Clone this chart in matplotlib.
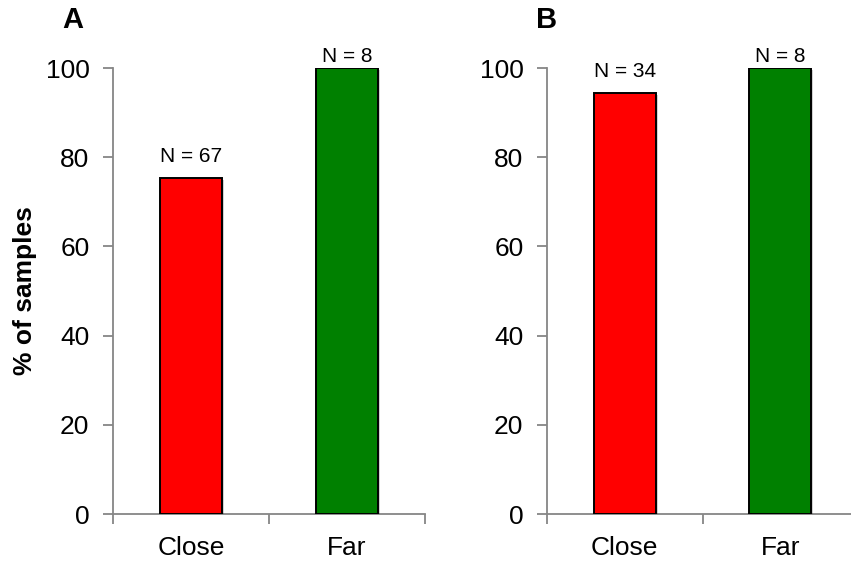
import matplotlib
matplotlib.use('Agg')
import matplotlib.pyplot as plt
import matplotlib.patheffects as pe
import numpy as np

# percentage of samples in each distance group, per panel
groups = ['Close', 'Far']
colors = ['#ff0000', '#008000']
panel_names = ['A', 'B']
pct_a = [75.4, 100.0]
pct_b = [94.5, 100.0]
n_a = [67, 8]
n_b = [34, 8]
y_ticks = [0, 20, 40, 60, 80, 100]

plt.rcParams['font.family'] = ['Liberation Sans', 'DejaVu Sans']
AXIS_GREY = '#868686'

fig = plt.figure(figsize=(8.51, 5.66), dpi=100)
ax_a = fig.add_axes([113 / 851, 52 / 566, 312 / 851, 446 / 566])
ax_b = fig.add_axes([547 / 851, 52 / 566, 311 / 851, 446 / 566])

shadow = [pe.SimplePatchShadow(offset=(1.5, -1.5), shadow_rgbFace='k', alpha=0.18), pe.Normal()]


def draw_panel(ax, pct, counts, name, name_x):
    x = np.arange(len(groups))
    bars = ax.bar(x, pct, width=0.4, color=colors, edgecolor='black', linewidth=1.4, zorder=3)
    for b in bars:
        b.set_path_effects(shadow)
    for xi, v, n in zip(x, pct, counts):
        # labels near the top edge sit closer to the bar
        off = 4 if v > 97 else 11
        ax.annotate('N = %d' % n, (xi, v), xytext=(0, off), textcoords='offset points',
                    ha='center', va='baseline', fontsize=15, annotation_clip=False)

    ax.set_xlim(-0.5, len(groups) - 0.5)
    ax.set_ylim(0, 100)
    ax.set_yticks(y_ticks)
    ax.tick_params(axis='y', direction='out', length=7, width=1.3, color=AXIS_GREY,
                   labelsize=19, pad=10)

    # category labels without marks, boundary ticks between categories
    ax.set_xticks(x)
    ax.set_xticklabels(groups)
    ax.tick_params(axis='x', which='major', length=0, labelsize=19, pad=16)
    ax.set_xticks(np.arange(len(groups) + 1) - 0.5, minor=True)
    ax.tick_params(axis='x', which='minor', direction='out', length=7, width=1.3, color=AXIS_GREY)

    for s in ['top', 'right']:
        ax.spines[s].set_visible(False)
    for s in ['left', 'bottom']:
        ax.spines[s].set_color(AXIS_GREY)
        ax.spines[s].set_linewidth(1.3)

    ax.text(name_x, 1.108, name, transform=ax.transAxes, fontsize=21, fontweight='bold',
            ha='center', va='center')


draw_panel(ax_a, pct_a, n_a, panel_names[0], -0.128)
draw_panel(ax_b, pct_b, n_b, panel_names[1], 0.0)

ax_a.set_ylabel('% of samples', fontsize=19, fontweight='bold', labelpad=6)

fig.savefig('out.png', dpi=100)
